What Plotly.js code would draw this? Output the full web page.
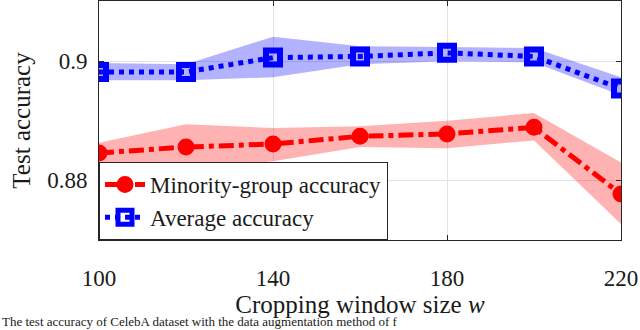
<!DOCTYPE html>
<html>
<head>
<meta charset="utf-8">
<script src="https://cdn.plot.ly/plotly-3.0.1.min.js"></script>
<style>
  html, body { margin: 0; padding: 0; background: #fff; }
  #chart { width: 640px; height: 330px; }
</style>
</head>
<body>
<div id="chart"></div>
<script>
// window sizes w
var windowSizes = [100, 120, 140, 160, 180, 200, 220];

// minority-group accuracy: mean and band
var minorityMean  = [0.8846, 0.8856, 0.8861, 0.8874, 0.8878, 0.8889, 0.8777];
var minorityUpper = [0.8863, 0.8894, 0.8888, 0.8891, 0.8900, 0.8913, 0.8830];
var minorityLower = [0.8831, 0.8818, 0.8832, 0.8856, 0.8854, 0.8867, 0.8727];

// average accuracy: mean and band
var averageMean  = [0.8982, 0.8982, 0.9006, 0.9008, 0.9014, 0.9008, 0.8954];
var averageUpper = [0.8997, 0.8995, 0.9041, 0.9025, 0.9024, 0.9022, 0.8973];
var averageLower = [0.8968, 0.8968, 0.8973, 0.8995, 0.9000, 0.8998, 0.8943];

var xTicks = [100, 140, 180, 220];
var yTicks = [0.88, 0.9];
var yTickText = ['0.88', '0.9'];

var serif = '"Liberation Serif", "Times New Roman", serif';

function band(upper, lower, color) {
    return {
        x: windowSizes.concat(windowSizes.slice().reverse()),
        y: upper.concat(lower.slice().reverse()),
        type: 'scatter',
        mode: 'lines',
        fill: 'toself',
        fillcolor: color,
        line: {width: 0},
        hoverinfo: 'skip',
        showlegend: false
    };
}

var traces = [
    band(minorityUpper, minorityLower, 'rgba(255,0,0,0.3)'),
    band(averageUpper, averageLower, 'rgba(0,0,255,0.3)'),
    {
        x: windowSizes, y: minorityMean,
        type: 'scatter', mode: 'lines+markers',
        name: 'Minority-group accuracy',
        line: {color: '#ff0000', width: 5, dash: 'dashdot'},
        marker: {symbol: 'circle', size: 15, color: '#ff0000', line: {color: '#ff0000', width: 2}}
    },
    {
        x: windowSizes, y: averageMean,
        type: 'scatter', mode: 'lines+markers',
        name: 'Average accuracy',
        line: {color: '#0000ff', width: 5, dash: 'dot'},
        marker: {symbol: 'square-open', size: 14, color: '#0000ff', line: {color: '#0000ff', width: 6}}
    }
];

var layout = {
    width: 640,
    height: 330,
    margin: {l: 99, r: 19, t: 1, b: 90},
    paper_bgcolor: '#ffffff',
    plot_bgcolor: '#ffffff',
    font: {family: serif, size: 22, color: '#1a1a1a'},
    showlegend: true,
    legend: {
        x: 0, y: 0, xanchor: 'left', yanchor: 'bottom',
        bgcolor: '#ffffff', bordercolor: '#262626', borderwidth: 1,
        font: {family: serif, size: 23, color: '#1a1a1a'},
        itemwidth: 40,
        tracegroupgap: 0
    },
    xaxis: {
        range: [100, 220],
        tickvals: xTicks,
        ticks: 'inside', ticklen: 5, tickcolor: '#262626',
        showline: true, mirror: 'ticks', linecolor: '#262626', linewidth: 1,
        showgrid: true, gridcolor: '#e3e3e3',
        zeroline: false,
        ticklabelstandoff: 17,
        tickfont: {family: serif, size: 23},
        title: {text: 'Cropping window size <i>w</i>', font: {family: serif, size: 25}, standoff: 0}
    },
    yaxis: {
        range: [0.8700, 0.9101],
        tickvals: yTicks,
        ticktext: yTickText,
        ticks: 'inside', ticklen: 5, tickcolor: '#262626',
        showline: true, mirror: 'ticks', linecolor: '#262626', linewidth: 1,
        showgrid: true, gridcolor: '#e3e3e3',
        zeroline: false,
        ticklabelstandoff: 6,
        tickfont: {family: serif, size: 23},
        title: {text: 'Test accuracy', font: {family: serif, size: 25}, standoff: 9}
    },
    annotations: [{
        text: 'The test accuracy of CelebA dataset with the data augmentation method of f',
        xref: 'paper', yref: 'paper',
        x: -0.19, y: -0.3,
        xanchor: 'left', yanchor: 'top',
        showarrow: false,
        font: {family: serif, size: 13, color: '#1a1a1a'}
    }]
};

Plotly.newPlot('chart', traces, layout, {displayModeBar: false, staticPlot: true});
</script>
</body>
</html>
